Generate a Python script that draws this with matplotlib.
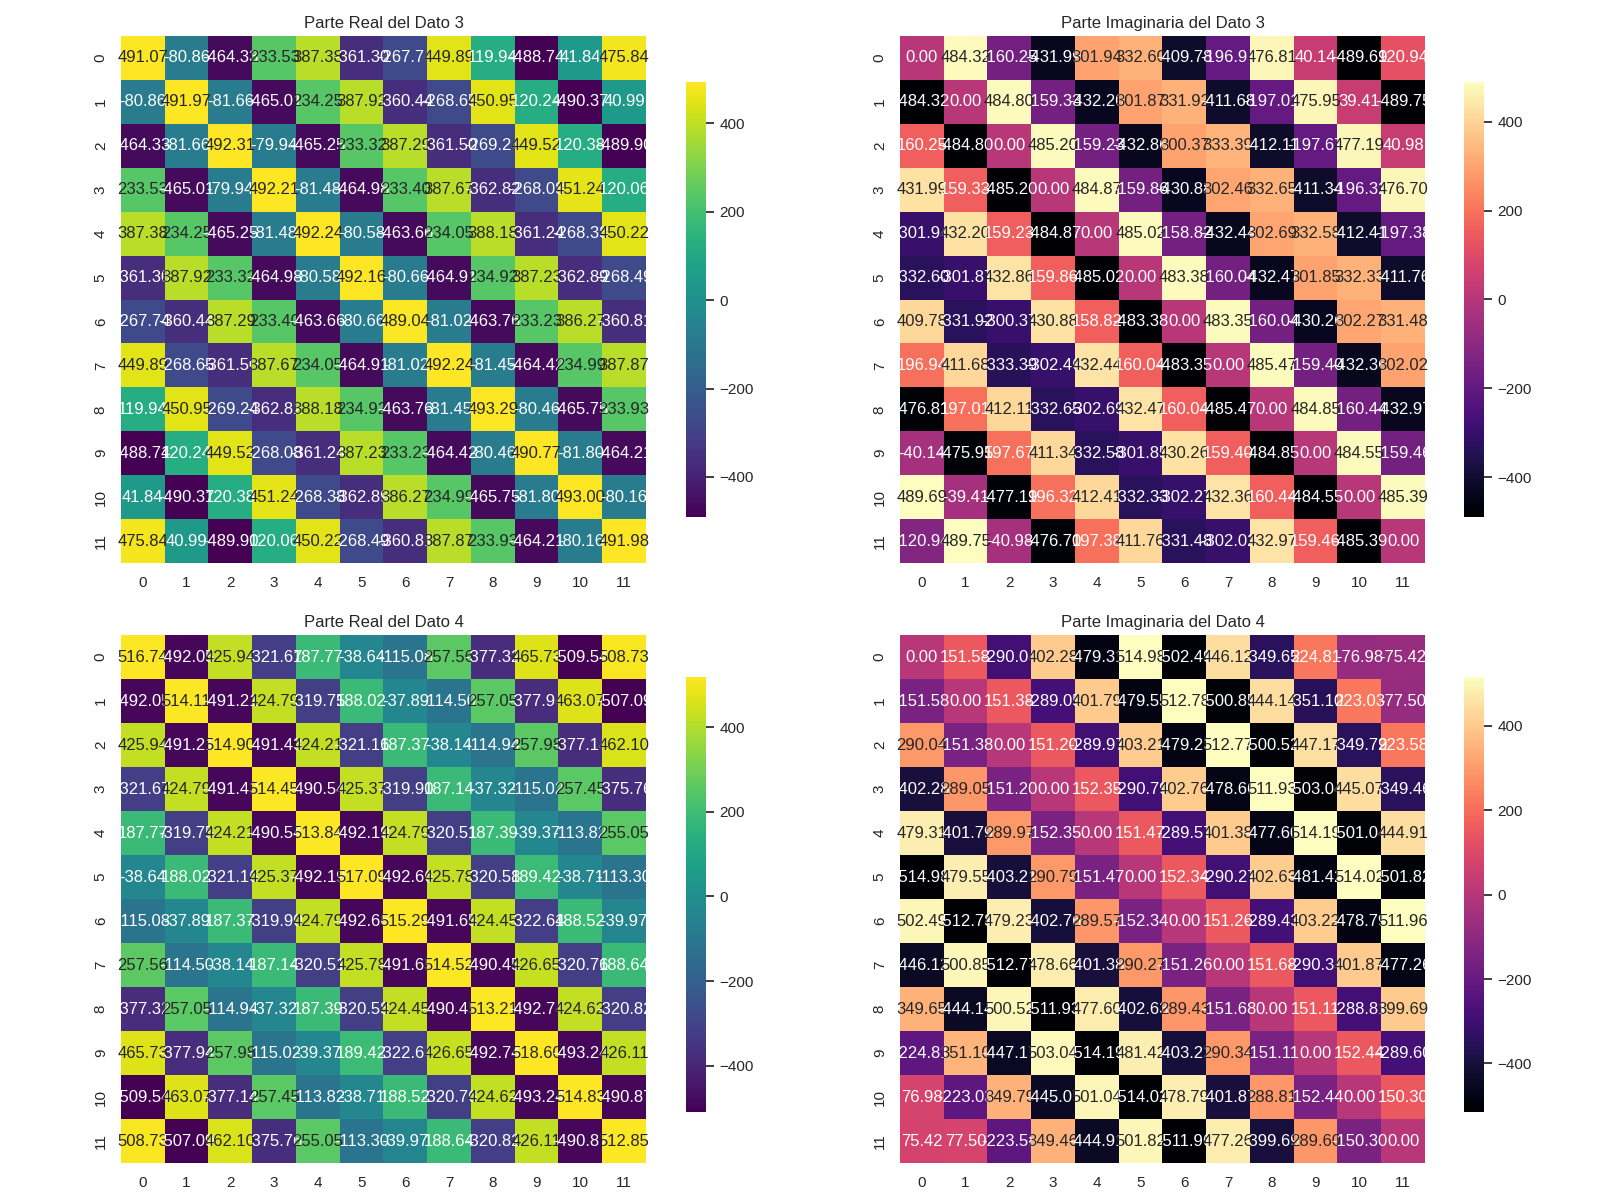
import numpy as np
import matplotlib; matplotlib.use("Agg"); import matplotlib.pyplot as plt
import seaborn as sns

sns.set_theme()
plt.rcParams['font.family'] = ['Liberation Sans', 'DejaVu Sans']

# Dato 3 (parte real / imaginaria), 12x12
real3 = [
    [491.07, -80.86, -464.33, 233.53, 387.38, -361.30, -267.74, 449.89, 119.94, -488.74, 41.84, 475.84],
    [-80.86, 491.97, -81.66, -465.01, 234.25, 387.92, -360.44, -268.65, 450.95, 120.24, -490.37, 40.99],
    [-464.33, -81.66, 492.31, -79.94, -465.25, 233.32, 387.29, -361.50, -269.24, 449.52, 120.38, -489.90],
    [233.53, -465.01, -79.94, 492.21, -81.48, -464.98, 233.40, 387.67, -362.82, -268.08, 451.24, 120.06],
    [387.38, 234.25, -465.25, -81.48, 492.24, -80.58, -463.66, 234.05, 388.18, -361.24, -268.38, 450.22],
    [-361.30, 387.92, 233.32, -464.98, -80.58, 492.16, -80.66, -464.91, 234.92, 387.23, -362.89, -268.49],
    [-267.74, -360.44, 387.29, 233.40, -463.66, -80.66, 489.04, -81.02, -463.76, 233.23, 386.27, -360.81],
    [449.89, -268.65, -361.50, 387.67, 234.05, -464.91, -81.02, 492.24, -81.45, -464.42, 234.99, 387.87],
    [119.94, 450.95, -269.24, -362.82, 388.18, 234.92, -463.76, -81.45, 493.29, -80.46, -465.75, 233.93],
    [-488.74, 120.24, 449.52, -268.08, -361.24, 387.23, 233.23, -464.42, -80.46, 490.77, -81.80, -464.21],
    [41.84, -490.37, 120.38, 451.24, -268.38, -362.89, 386.27, 234.99, -465.75, -81.80, 493.00, -80.16],
    [475.84, 40.99, -489.90, 120.06, 450.22, -268.49, -360.81, 387.87, 233.93, -464.21, -80.16, 491.98],
]
imag3 = [
    [0.00, 484.32, -160.25, -431.99, 301.94, 332.60, -409.78, -196.94, 476.81, 40.14, -489.69, 120.94],
    [-484.32, 0.00, 484.80, -159.33, -432.20, 301.87, 331.92, -411.68, -197.01, 475.95, 39.41, -489.75],
    [160.25, -484.80, 0.00, 485.20, -159.23, -432.86, 300.37, 333.39, -412.11, -197.67, 477.19, 40.98],
    [431.99, 159.33, -485.20, 0.00, 484.87, -159.86, -430.88, 302.46, 332.65, -411.34, -196.32, 476.70],
    [-301.94, 432.20, 159.23, -484.87, 0.00, 485.02, -158.82, -432.44, 302.69, 332.58, -412.41, -197.38],
    [-332.60, -301.87, 432.86, 159.86, -485.02, 0.00, 483.38, -160.04, -432.47, 301.85, 332.33, -411.76],
    [409.78, -331.92, -300.37, 430.88, 158.82, -483.38, 0.00, 483.35, -160.04, -430.26, 302.27, 331.48],
    [196.94, 411.68, -333.39, -302.46, 432.44, 160.04, -483.35, 0.00, 485.47, -159.40, -432.36, 302.02],
    [-476.81, 197.01, 412.11, -332.65, -302.69, 432.47, 160.04, -485.47, 0.00, 484.85, -160.44, -432.97],
    [-40.14, -475.95, 197.67, 411.34, -332.58, -301.85, 430.26, 159.40, -484.85, 0.00, 484.55, -159.46],
    [489.69, -39.41, -477.19, 196.32, 412.41, -332.33, -302.27, 432.36, 160.44, -484.55, 0.00, 485.39],
    [-120.94, 489.75, -40.98, -476.70, 197.38, 411.76, -331.48, -302.02, 432.97, 159.46, -485.39, 0.00],
]
# Dato 4
real4 = [
    [516.74, -492.05, 425.94, -321.67, 187.77, -38.64, -115.08, 257.56, -377.32, 465.73, -509.54, 508.73],
    [-492.05, 514.11, -491.21, 424.79, -319.75, 188.02, -37.89, -114.50, 257.05, -377.94, 463.07, -507.09],
    [425.94, -491.21, 514.90, -491.43, 424.21, -321.16, 187.37, -38.14, -114.94, 257.98, -377.14, 462.10],
    [-321.67, 424.79, -491.43, 514.45, -490.54, 425.37, -319.90, 187.14, -37.32, -115.02, 257.45, -375.76],
    [187.77, -319.75, 424.21, -490.54, 513.84, -492.19, 424.79, -320.51, 187.39, -39.37, -113.82, 255.05],
    [-38.64, 188.02, -321.16, 425.37, -492.19, 517.09, -492.66, 425.78, -320.58, 189.42, -38.71, -113.30],
    [-115.08, -37.89, 187.37, -319.90, 424.79, -492.66, 515.29, -491.65, 424.45, -322.64, 188.52, -39.97],
    [257.56, -114.50, -38.14, 187.14, -320.51, 425.78, -491.65, 514.52, -490.45, 426.65, -320.76, 188.64],
    [-377.32, 257.05, -114.94, -37.32, 187.39, -320.58, 424.45, -490.45, 513.21, -492.74, 424.62, -320.82],
    [465.73, -377.94, 257.98, -115.02, -39.37, 189.42, -322.64, 426.65, -492.74, 518.60, -493.24, 426.11],
    [-509.54, 463.07, -377.14, 257.45, -113.82, -38.71, 188.52, -320.76, 424.62, -493.24, 514.83, -490.87],
    [508.73, -507.09, 462.10, -375.76, 255.05, -113.30, -39.97, 188.64, -320.82, 426.11, -490.87, 512.85],
]
imag4 = [
    [0.00, 151.58, -290.04, 402.28, -479.31, 514.98, -502.49, 446.12, -349.65, 224.81, -76.98, -75.42],
    [-151.58, 0.00, 151.38, -289.05, 401.79, -479.55, 512.78, -500.85, 444.14, -351.10, 223.03, -77.50],
    [290.04, -151.38, 0.00, 151.20, -289.97, 403.21, -479.23, 512.77, -500.52, 447.17, -349.79, 223.58],
    [-402.28, 289.05, -151.20, 0.00, 152.35, -290.79, 402.76, -478.66, 511.93, -503.04, 445.07, -349.46],
    [479.31, -401.79, 289.97, -152.35, 0.00, 151.47, -289.57, 401.38, -477.60, 514.19, -501.04, 444.91],
    [-514.98, 479.55, -403.21, 290.79, -151.47, 0.00, 152.34, -290.27, 402.63, -481.42, 514.02, -501.82],
    [502.49, -512.78, 479.23, -402.76, 289.57, -152.34, 0.00, 151.26, -289.43, 403.22, -478.79, 511.96],
    [-446.12, 500.85, -512.77, 478.66, -401.38, 290.27, -151.26, 0.00, 151.68, -290.34, 401.87, -477.26],
    [349.65, -444.14, 500.52, -511.93, 477.60, -402.63, 289.43, -151.68, 0.00, 151.11, -288.81, 399.69],
    [-224.81, 351.10, -447.17, 503.04, -514.19, 481.42, -403.22, 290.34, -151.11, 0.00, 152.44, -289.60],
    [76.98, -223.03, 349.79, -445.07, 501.04, -514.02, 478.79, -401.87, 288.81, -152.44, 0.00, 150.30],
    [75.42, 77.50, -223.58, 349.46, -444.91, 501.82, -511.96, 477.26, -399.69, 289.60, -150.30, 0.00],
]
titles = ["Parte Real del Dato 3", "Parte Imaginaria del Dato 3",
          "Parte Real del Dato 4", "Parte Imaginaria del Dato 4"]
mats = [real3, imag3, real4, imag4]
cmaps = ["viridis", "magma", "viridis", "magma"]

fig = plt.figure(figsize=(16, 12), dpi=100)
# [heatmap rect, colorbar rect] in figure fractions
pos = [([0.0756, 0.5308, 0.3281, 0.4392], [0.4288, 0.5692, 0.0125, 0.3625]),
       ([0.5625, 0.5308, 0.3281, 0.4392], [0.9150, 0.5692, 0.0125, 0.3625]),
       ([0.0756, 0.0308, 0.3281, 0.4400], [0.4288, 0.0733, 0.0125, 0.3625]),
       ([0.5625, 0.0308, 0.3281, 0.4400], [0.9150, 0.0733, 0.0125, 0.3625])]

for m, t, cm, (r, rc) in zip(mats, titles, cmaps, pos):
    ax = fig.add_axes(r); cax = fig.add_axes(rc)
    sns.heatmap(np.array(m), ax=ax, cbar_ax=cax, cmap=cm, annot=True, fmt=".2f")
    ax.set_title(t)

fig.savefig("out.png", dpi=100)
